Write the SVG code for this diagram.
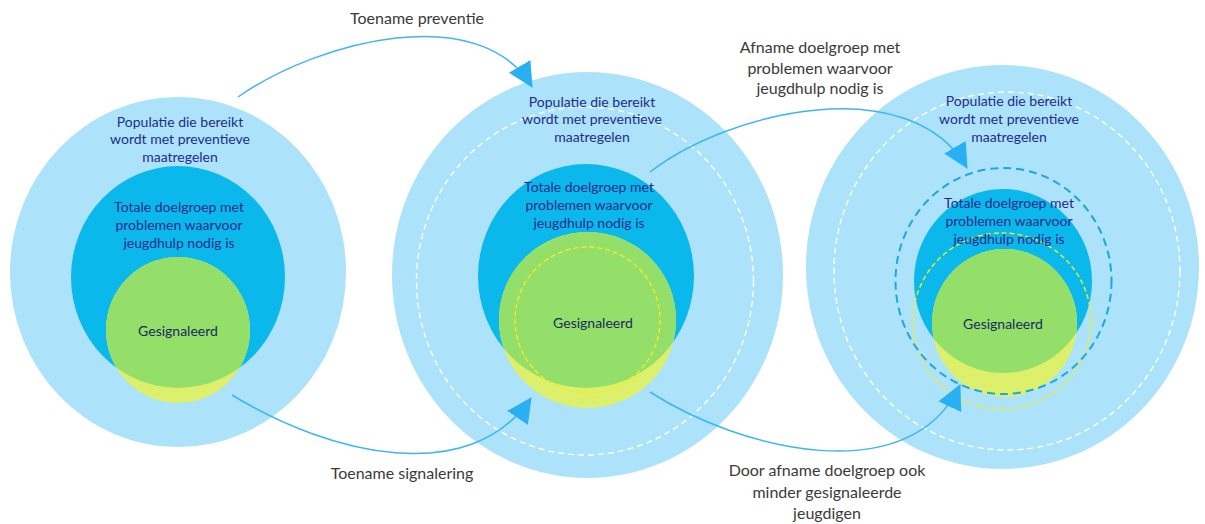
<svg xmlns="http://www.w3.org/2000/svg" width="1205" height="524" viewBox="0 0 1205 524">
<style>
.outer{fill:#ACE2FA}
.mid{fill:#0BB8EB}
.yel{fill:#DCF06C}
.grn{fill:#94DF6A}
.wd{fill:none;stroke:#FFFFFF;stroke-width:1.4;stroke-dasharray:6 4}
.yd{fill:none;stroke:#F2EE1E;stroke-width:1.4;stroke-dasharray:5 3}
.bd{fill:none;stroke:#1DA7DE;stroke-width:2;stroke-dasharray:8 5}
.t{font-family:Lato,"Liberation Sans",sans-serif;font-size:14px;fill:#1F2C8C;text-anchor:middle}
.g{font-family:Lato,"Liberation Sans",sans-serif;font-size:14px;fill:#1B2A5E;text-anchor:middle}
.lbl{font-family:Lato,"Liberation Sans",sans-serif;font-size:16px;fill:#3A3A3A;text-anchor:middle}
.con{fill:none;stroke:#3DB6F2;stroke-width:1.5}
</style>
<defs>
<marker id="ah" markerUnits="userSpaceOnUse" markerWidth="30" markerHeight="30" refX="24" refY="12.5" orient="auto">
<path d="M0,0 L25,12.5 L0,25 Z" fill="#29B0F2"/>
</marker>
<clipPath id="c1"><ellipse cx="178" cy="277" rx="107" ry="111"/></clipPath>
<clipPath id="c2"><ellipse cx="586" cy="276" rx="108" ry="112"/></clipPath>
<clipPath id="c3"><ellipse cx="1003" cy="281" rx="89" ry="92"/></clipPath>
</defs>

<g id="node-left">
<ellipse class="outer" cx="178" cy="272" rx="168" ry="175"/>
<ellipse class="mid" cx="178" cy="277" rx="107" ry="111"/>
<ellipse class="yel" cx="178" cy="330" rx="72" ry="73"/>
<ellipse class="grn" cx="178" cy="330" rx="72" ry="73" clip-path="url(#c1)"/>
<text class="t" x="180" y="127">Populatie die bereikt</text>
<text class="t" x="180" y="144">wordt met preventieve</text>
<text class="t" x="180" y="162">maatregelen</text>
<text class="t" x="179" y="212">Totale doelgroep met</text>
<text class="t" x="179" y="230">problemen waarvoor</text>
<text class="t" x="179" y="248">jeugdhulp nodig is</text>
<text class="g" x="178" y="336">Gesignaleerd</text>
</g>

<g id="node-middle">
<ellipse class="outer" cx="587.5" cy="275" rx="195.5" ry="203"/>
<ellipse class="wd" cx="585" cy="281" rx="168.5" ry="174"/>
<ellipse class="mid" cx="586" cy="276" rx="108" ry="112"/>
<ellipse class="yel" cx="587.5" cy="320" rx="88.5" ry="88"/>
<ellipse class="grn" cx="587.5" cy="320" rx="88.5" ry="88" clip-path="url(#c2)"/>
<ellipse class="yd" cx="587.5" cy="320" rx="72.5" ry="73"/>
<text class="t" x="592" y="107">Populatie die bereikt</text>
<text class="t" x="592" y="124">wordt met preventieve</text>
<text class="t" x="592" y="142">maatregelen</text>
<text class="t" x="589" y="192">Totale doelgroep met</text>
<text class="t" x="589" y="210">problemen waarvoor</text>
<text class="t" x="589" y="228">jeugdhulp nodig is</text>
<text class="g" x="593" y="328">Gesignaleerd</text>
</g>

<g id="node-right">
<ellipse class="outer" cx="1002.5" cy="267" rx="196.5" ry="202"/>
<ellipse class="wd" cx="1007" cy="271" rx="173" ry="179"/>
<ellipse class="mid" cx="1003" cy="281" rx="89" ry="92"/>
<ellipse class="yel" cx="1004.5" cy="323" rx="72.5" ry="74"/>
<ellipse class="grn" cx="1004.5" cy="323" rx="72.5" ry="74" clip-path="url(#c3)"/>
<ellipse class="yd" cx="1002" cy="321" rx="89" ry="88"/>
<ellipse class="bd" cx="1003.5" cy="281" rx="108" ry="113"/>
<text class="t" x="1009" y="106">Populatie die bereikt</text>
<text class="t" x="1009" y="124">wordt met preventieve</text>
<text class="t" x="1009" y="142">maatregelen</text>
<text class="t" x="1009" y="208">Totale doelgroep met</text>
<text class="t" x="1009" y="226">problemen waarvoor</text>
<text class="t" x="1009" y="244">jeugdhulp nodig is</text>
<text class="g" x="1003" y="329">Gesignaleerd</text>
</g>

<g id="connectors">
<path class="con" d="M238,97 C320,40 480,0 532,87" marker-end="url(#ah)"/>
<path class="con" d="M232,395 C330,455 470,488 531,398" marker-end="url(#ah)"/>
<path class="con" d="M650,172 C730,110 910,70 967,168" marker-end="url(#ah)"/>
<path class="con" d="M650,392 C740,450 910,492 960,385" marker-end="url(#ah)"/>
</g>

<g id="labels">
<text class="lbl" x="417" y="24">Toename preventie</text>
<text class="lbl" x="820" y="53">Afname doelgroep met</text>
<text class="lbl" x="820" y="74">problemen waarvoor</text>
<text class="lbl" x="820" y="94">jeugdhulp nodig is</text>
<text class="lbl" x="402" y="479">Toename signalering</text>
<text class="lbl" x="827" y="476">Door afname doelgroep ook</text>
<text class="lbl" x="827" y="498">minder gesignaleerde</text>
<text class="lbl" x="827" y="519">jeugdigen</text>
</g>
</svg>
